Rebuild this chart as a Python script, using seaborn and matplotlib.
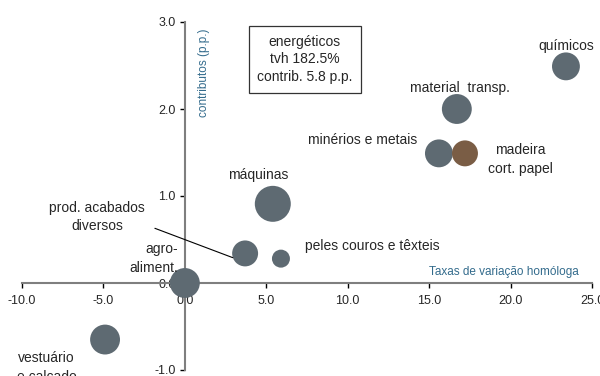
import matplotlib
matplotlib.use("Agg")
import matplotlib.pyplot as plt
import seaborn as sns
import pandas as pd

sectors = ["químicos", "material transp.", "minérios e metais", "madeira cort. papel",
           "máquinas", "prod. acabados diversos", "peles couros e têxteis",
           "agro-aliment.", "vestuário e calcado"]
tvh = [23.4, 16.7, 15.6, 17.2, 5.4, 3.7, 5.9, 0.0, -4.9]
contrib = [2.49, 2.0, 1.49, 1.49, 0.91, 0.34, 0.28, 0.0, -0.65]
weight = [6.0, 6.9, 6.0, 5.2, 10.0, 5.2, 2.5, 6.9, 6.9]
group = ["g", "g", "g", "b", "g", "g", "g", "g", "g"]
xticks = [-10.0, -5.0, 0.0, 5.0, 10.0, 15.0, 20.0, 25.0]
yticks = [-1.0, 0.0, 1.0, 2.0, 3.0]

df = pd.DataFrame({"sector": sectors, "tvh": tvh, "contrib": contrib,
                   "weight": weight, "group": group})

sns.set_style("white")
plt.rcParams['font.family'] = ['Liberation Sans', 'DejaVu Sans']

fig = plt.figure(figsize=(6, 3.76), dpi=100)
ax = fig.add_axes([22/600, 6/376, 570/600, 348/376])

sns.scatterplot(data=df, x="tvh", y="contrib", size="weight", hue="group",
                palette={"g": "#5e6a72", "b": "#7a5d45"},
                sizes=(0, 671), size_norm=(0, 10), linewidth=0,
                alpha=1, legend=False, ax=ax, zorder=3)

ax.set_xlim(-10, 25)
ax.set_ylim(-1, 3)
for s in ["top", "right"]:
    ax.spines[s].set_visible(False)
ax.spines["left"].set_position(("data", 0))
ax.spines["bottom"].set_position(("data", 0))
for s in ["left", "bottom"]:
    ax.spines[s].set_color("#7f7f7f")
    ax.spines[s].set_linewidth(1.5)
ax.set_xticks(xticks)
ax.set_yticks(yticks)
ax.set_xticklabels([f"{v:.1f}" for v in xticks])
ax.set_yticklabels([f"{v:.1f}" for v in yticks])
ax.tick_params(axis="both", direction="out", length=3.5, width=1, color="black",
               labelsize=9, pad=3, bottom=True, left=True)
ax.tick_params(axis="x", pad=5)
ax.set_xlabel("")
ax.set_ylabel("")

blue = "#336b8c"
fs = 10
ax.text(23.4, 2.72, "químicos", ha="center", va="center", fontsize=fs)
ax.text(16.9, 2.24, "material  transp.", ha="center", va="center", fontsize=fs)
ax.text(14.3, 1.64, "minérios e metais", ha="right", va="center", fontsize=fs)
ax.text(20.6, 1.42, "madeira\ncort. papel", ha="center", va="center", fontsize=fs, linespacing=1.4)
ax.text(4.5, 1.24, "máquinas", ha="center", va="center", fontsize=fs)
ax.text(-5.4, 0.76, "prod. acabados\ndiversos", ha="center", va="center", fontsize=fs, linespacing=1.3)
ax.annotate("", xy=(3.1, 0.28), xytext=(-2.0, 0.64),
            arrowprops=dict(arrowstyle="-", color="black", lw=0.8))
ax.text(7.4, 0.43, "peles couros e têxteis", ha="left", va="center", fontsize=fs)
ax.text(-0.4, 0.28, "agro-\naliment.", ha="right", va="center", fontsize=fs, linespacing=1.4)
ax.text(-8.5, -0.97, "vestuário\ne calcado", ha="center", va="center", fontsize=fs, linespacing=1.4)
ax.text(7.37, 2.57, "energéticos\ntvh 182.5%\ncontrib. 5.8 p.p.", ha="center", va="center",
        fontsize=fs, linespacing=1.35,
        bbox=dict(boxstyle="square,pad=0.6", fc="white", ec="#333333", lw=0.9))
ax.text(1.17, 2.42, "contributos (p.p.)", rotation=90, ha="center", va="center",
        fontsize=8.5, color=blue)
ax.text(19.6, 0.126, "Taxas de variação homóloga", ha="center", va="center",
        fontsize=8.5, color=blue)

fig.savefig("out.png", dpi=100)
